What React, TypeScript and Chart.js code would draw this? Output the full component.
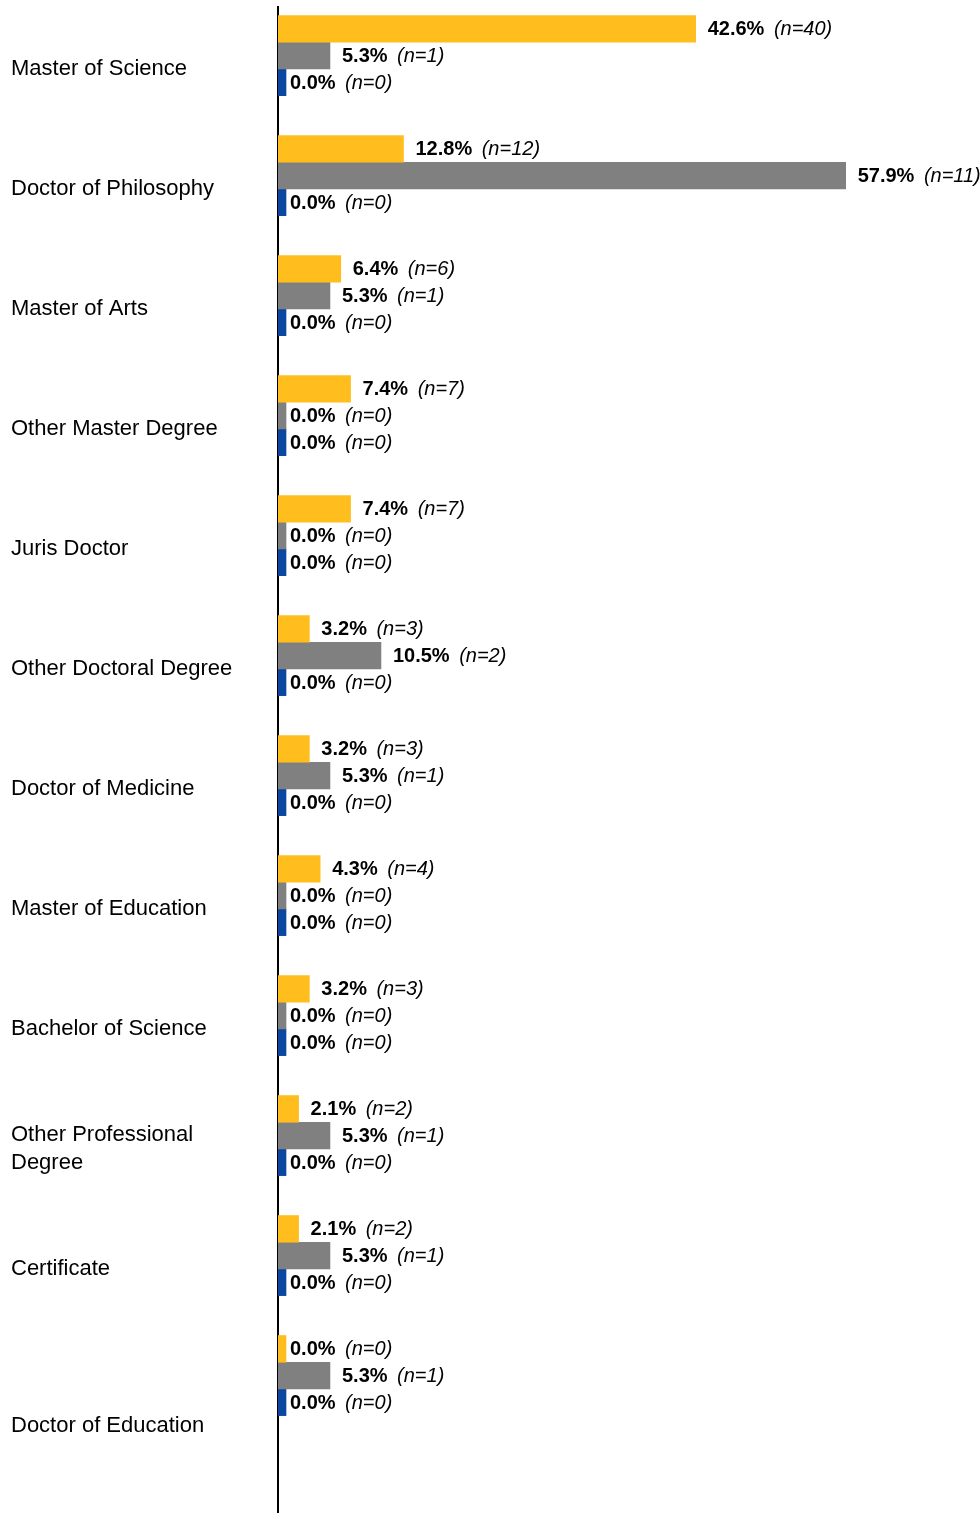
import React, { useEffect, useRef } from 'react';
import { Chart, registerables } from 'chart.js';

Chart.register(...registerables);

const categories: (string | string[])[] = [
  'Master of Science',
  'Doctor of Philosophy',
  'Master of Arts',
  'Other Master Degree',
  'Juris Doctor',
  'Other Doctoral Degree',
  'Doctor of Medicine',
  'Master of Education',
  'Bachelor of Science',
  ['Other Professional', 'Degree'],
  'Certificate',
  'Doctor of Education',
];

const yellowPct = [42.6, 12.8, 6.4, 7.4, 7.4, 3.2, 3.2, 4.3, 3.2, 2.1, 2.1, 0.0];
const yellowN = [40, 12, 6, 7, 7, 3, 3, 4, 3, 2, 2, 0];
const grayPct = [5.3, 57.9, 5.3, 0.0, 0.0, 10.5, 5.3, 0.0, 0.0, 5.3, 5.3, 5.3];
const grayN = [1, 11, 1, 0, 0, 2, 1, 0, 0, 1, 1, 1];
const bluePct = [0.0, 0.0, 0.0, 0.0, 0.0, 0.0, 0.0, 0.0, 0.0, 0.0, 0.0, 0.0];
const blueN = [0, 0, 0, 0, 0, 0, 0, 0, 0, 0, 0, 0];

const seriesColors = ['#FFBE1E', '#808080', '#0B47A0'];
const FONT = '"Liberation Sans", Arial, sans-serif';

const seriesCounts = [yellowN, grayN, blueN];

const valueLabels = {
  id: 'valueLabels',
  afterDatasetsDraw(chart: any) {
    const ctx = chart.ctx;
    const xs = chart.scales.x;
    chart.data.datasets.forEach((ds: any, di: number) => {
      const counts = seriesCounts[di];
      if (!counts) return;
      const meta = chart.getDatasetMeta(di);
      meta.data.forEach((el: any, i: number) => {
        const v = ds.data[i].x as number;
        const x = xs.getPixelForValue(v) + 12;
        const y = el.y + 1;
        ctx.save();
        ctx.fillStyle = '#000';
        ctx.textBaseline = 'middle';
        ctx.textAlign = 'left';
        ctx.font = `bold 20px ${FONT}`;
        const pct = v.toFixed(1) + '%';
        ctx.fillText(pct, x, y);
        const w = ctx.measureText(pct).width;
        ctx.font = `italic 20px ${FONT}`;
        ctx.fillText(`(n=${counts[i]})`, x + w + 9.5, y);
        ctx.restore();
      });
    });
  },
};

const lastLabelShift = 0.31;

export default function App() {
  const ref = useRef<HTMLCanvasElement>(null);

  useEffect(() => {
    if (!ref.current) return;
    const toPoints = (vals: number[]) => vals.map((v, i) => ({ x: v, y: i }));
    const chart = new Chart(ref.current, {
      type: 'bar',
      data: {
        datasets: [
          { label: 'A', data: toPoints(yellowPct), backgroundColor: seriesColors[0], minBarLength: 8 },
          { label: 'B', data: toPoints(grayPct), backgroundColor: seriesColors[1], minBarLength: 8 },
          { label: 'C', data: toPoints(bluePct), backgroundColor: seriesColors[2], minBarLength: 8 },
          { label: '', data: [], backgroundColor: 'rgba(0,0,0,0)' },
        ],
      } as any,
      options: {
        indexAxis: 'y',
        responsive: false,
        animation: false,
        devicePixelRatio: 1,
        layout: { padding: { left: 11, top: 7, right: 0, bottom: 0 } },
        datasets: { bar: { barThickness: 26.7, borderWidth: 0 } } as any,
        plugins: { legend: { display: false }, tooltip: { enabled: false } },
        scales: {
          x: {
            type: 'linear',
            display: false,
            min: 0,
            max: 71.6,
          },
          y: {
            type: 'linear',
            reverse: true,
            offset: false,
            bounds: 'data',
            min: -0.5163,
            max: 12.034,
            grid: { display: false },
            border: { display: true, color: '#000', width: 2 },
            afterBuildTicks: (scale: any) => {
              scale.ticks = categories.map((_, i) => ({
                value: i === categories.length - 1 ? i + lastLabelShift : i,
              }));
            },
            afterFit: (scale: any) => {
              scale.width = 267;
              scale.paddingTop = 0;
              scale.paddingBottom = 0;
            },
            ticks: {
              autoSkip: false,
              crossAlign: 'far',
              padding: 0,
              color: '#000',
              font: { family: FONT, size: 22, lineHeight: 1.23 },
              callback: (_v: any, i: number) => categories[i] as any,
            },
          },
        },
      } as any,
      plugins: [valueLabels],
    });
    return () => chart.destroy();
  }, []);

  return (
    <div style={{ position: 'absolute', left: 0, top: 0, width: 980, height: 1513, background: '#fff' }}>
      <canvas ref={ref} width={980} height={1513} style={{ display: 'block' }} />
    </div>
  );
}
